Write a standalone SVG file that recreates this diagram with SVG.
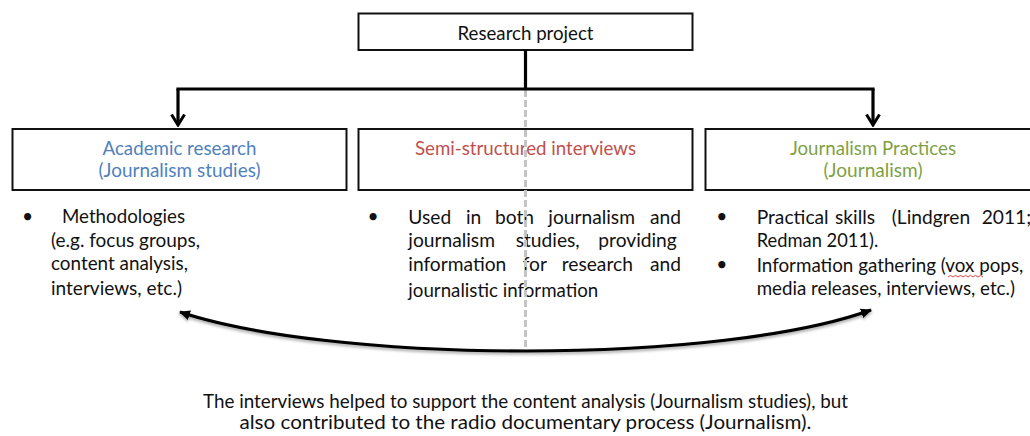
<svg xmlns="http://www.w3.org/2000/svg" width="1030" height="436" viewBox="0 0 1030 436">
  <style>
    text { font-family: Lato, "Liberation Sans", sans-serif; font-size: 19.2px; fill: #111; }
    .box { fill: #fff; stroke: #111; stroke-width: 2; }
    .title { text-anchor: middle; }
    .blue { fill: #4f81bd; }
    .red { fill: #c0504d; }
    .green { fill: #809f45; }
    .bullet { text-anchor: middle; }
    .link { fill: none; stroke: #000; stroke-width: 3.2; }
    .guide { fill: none; stroke: #c4c4c4; stroke-width: 3; stroke-dasharray: 7 3; }
  </style>
  <defs>
    <marker id="openHead" viewBox="0 0 14 16" refX="12" refY="8" markerWidth="14" markerHeight="16" markerUnits="userSpaceOnUse" orient="auto-start-reverse">
      <path d="M1.5,1.5 L12,8 L1.5,14.5" fill="none" stroke="#000" stroke-width="3"/>
    </marker>
    <marker id="solidHead" viewBox="0 0 11 11" refX="10" refY="5.5" markerWidth="11" markerHeight="11" markerUnits="userSpaceOnUse" orient="auto-start-reverse">
      <path d="M0,0.5 L11,5.5 L0,10.5 Z" fill="#000"/>
    </marker>
    <filter id="shadow" x="-5%" y="-30%" width="110%" height="160%">
      <feDropShadow dx="0" dy="2" stdDeviation="1.6" flood-color="#000" flood-opacity="0.35"/>
    </filter>
  </defs>

  <!-- top node -->
  <g id="research-project">
    <rect class="box" x="358.5" y="13.5" width="334" height="36.5"/>
    <text class="title" x="525.5" y="39.5" textLength="136" lengthAdjust="spacingAndGlyphs">Research project</text>
  </g>

  <!-- academic research -->
  <g id="academic-research">
    <rect class="box" x="12.5" y="129" width="334" height="61"/>
    <text class="title blue" x="179.5" y="155" textLength="154" lengthAdjust="spacingAndGlyphs">Academic research</text>
    <text class="title blue" x="179.5" y="177" textLength="162" lengthAdjust="spacingAndGlyphs">(Journalism studies)</text>
    <text class="bullet" x="27.5" y="223">•</text>
    <text x="62" y="223" textLength="123" lengthAdjust="spacingAndGlyphs">Methodologies</text>
    <text x="51" y="246.5" textLength="149" lengthAdjust="spacingAndGlyphs">(e.g. focus groups,</text>
    <text x="51" y="270" textLength="137" lengthAdjust="spacingAndGlyphs">content analysis,</text>
    <text x="51" y="294.5" textLength="131" lengthAdjust="spacingAndGlyphs">interviews, etc.)</text>
  </g>

  <!-- semi-structured interviews -->
  <g id="semi-structured-interviews">
    <rect class="box" x="358.5" y="129" width="334" height="61"/>
    <text class="title red" x="525.5" y="155" textLength="221" lengthAdjust="spacingAndGlyphs">Semi-structured interviews</text>
    <text class="bullet" x="373" y="223">•</text>
    <text y="224"><tspan x="408.3">Used</tspan> <tspan x="466">in</tspan> <tspan x="495">both</tspan> <tspan x="548.3">journalism</tspan> <tspan x="650">and</tspan></text>
    <text y="247.3"><tspan x="408.3">journalism</tspan> <tspan x="515.7">studies,</tspan> <tspan x="598.3">providing</tspan></text>
    <text y="270.7"><tspan x="408.3">information</tspan> <tspan x="522.7">for</tspan> <tspan x="561.7">research</tspan> <tspan x="650">and</tspan></text>
    <text x="408.3" y="296.5" textLength="190" lengthAdjust="spacingAndGlyphs">journalistic information</text>
  </g>

  <!-- journalism practices -->
  <g id="journalism-practices">
    <rect class="box" x="705.5" y="129" width="340" height="61"/>
    <text class="title green" x="873" y="155" textLength="166" lengthAdjust="spacingAndGlyphs">Journalism Practices</text>
    <text class="title green" x="873" y="177" textLength="99" lengthAdjust="spacingAndGlyphs">(Journalism)</text>
    <text class="bullet" x="721.7" y="223">•</text>
    <text y="224"><tspan x="756.7">Practical</tspan> <tspan x="835">skills</tspan> <tspan x="891.7">(Lindgren</tspan> <tspan x="981.7">2011;</tspan></text>
    <text x="756.7" y="247" textLength="121.6" lengthAdjust="spacingAndGlyphs">Redman 2011).</text>
    <text class="bullet" x="721.7" y="270.5">•</text>
    <text x="756.7" y="271.5" textLength="266.6" lengthAdjust="spacingAndGlyphs">Information gathering (vox pops,</text>
    <path d="M948,277 l2.5,-1.6 l2.5,1.6 l2.5,-1.6 l2.5,1.6 l2.5,-1.6 l2.5,1.6 l2.5,-1.6 l2.5,1.6 l2.5,-1.6 l2.5,1.6 l2.5,-1.6 l2.5,1.6 l2.5,-1.6 l2.5,1.6" fill="none" stroke="#e0302a" stroke-width="0.9"/>
    <text x="756.7" y="295" textLength="258.3" lengthAdjust="spacingAndGlyphs">media releases, interviews, etc.)</text>
  </g>

  <!-- conclusion -->
  <g id="conclusion">
    <text class="title" x="525.5" y="407.5" textLength="645" lengthAdjust="spacingAndGlyphs">The interviews helped to support the content analysis (Journalism studies), but</text>
    <text class="title" x="525.5" y="428.5" textLength="572" lengthAdjust="spacingAndGlyphs">also contributed to the radio documentary process (Journalism).</text>
  </g>

  <!-- connectors (drawn last so the dashed guide shows across the middle box) -->
  <g id="connectors">
    <path class="guide" d="M525.5,90 V351"/>
    <path class="link" d="M525.5,50 V89"/>
    <path class="link" d="M178,89 H873" stroke-linecap="square"/>
    <path class="link" d="M178,89 V125" marker-end="url(#openHead)"/>
    <path class="link" d="M873,89 V125" marker-end="url(#openHead)"/>
    <path class="link" filter="url(#shadow)" d="M180,312 C252,336 382,351 525.5,351 C669,351 799,336 871,310" marker-start="url(#solidHead)" marker-end="url(#solidHead)"/>
  </g>
</svg>
